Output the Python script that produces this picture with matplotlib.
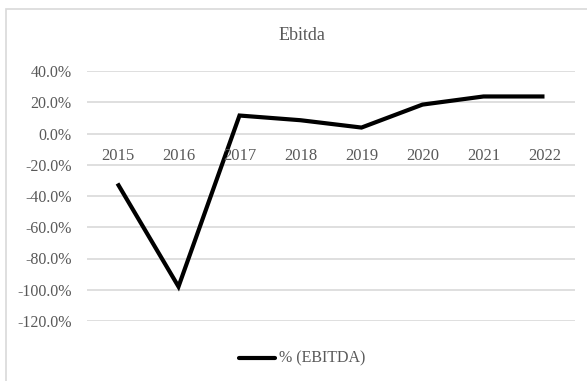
import matplotlib
matplotlib.use("Agg")
import matplotlib.pyplot as plt
from matplotlib.lines import Line2D
from matplotlib.patches import Rectangle
from matplotlib.ticker import FuncFormatter, FixedLocator

years = ["2015", "2016", "2017", "2018", "2019", "2020", "2021", "2022"]
ebitda_pct = [-0.32, -0.98, 0.115, 0.085, 0.038, 0.185, 0.237, 0.237]
yticks = [0.4, 0.2, 0.0, -0.2, -0.4, -0.6, -0.8, -1.0, -1.2]
series_name = "% (EBITDA)"
title = "Ebitda"

W, H = 587, 381
fig = plt.figure(figsize=(W / 100, H / 100), dpi=100)
plt.rcParams['font.family'] = ['Liberation Serif', 'DejaVu Serif']
txt_color = "#595959"
grid_color = "#d9d9d9"

# chart area border
fig.patches.append(Rectangle((6 / W, -0.1), 1.2, 1 - 8.5 / H + 0.1,
                             transform=fig.transFigure, fill=False,
                             edgecolor="#d9d9d9", linewidth=1.2))

left, right = 87 / W, 575 / W
top, bottom = 1 - 71 / H, 1 - 321 / H
ax = fig.add_axes([left, bottom, right - left, top - bottom])
x = list(range(len(years)))
ax.plot(x, ebitda_pct, color="black", linewidth=3, solid_joinstyle="miter",
        solid_capstyle="butt", zorder=3)
ax.set_xlim(-0.5, len(years) - 0.5)
ax.set_ylim(-1.2, 0.4)
ax.yaxis.set_major_locator(FixedLocator(yticks))
ax.yaxis.set_major_formatter(FuncFormatter(lambda v, p: f"{v*100:.1f}%"))
ax.grid(axis="y", color=grid_color, linewidth=1.2)
ax.set_axisbelow(True)
for s in ax.spines.values():
    s.set_visible(False)
ax.tick_params(axis="y", length=0, pad=11, labelsize=11.5, labelcolor=txt_color)
ax.set_xticks([])
# category labels placed just below the zero axis line
for xi, lab in zip(x, years):
    ax.annotate(lab, xy=(xi, 0), xytext=(0, -16), textcoords="offset points",
                ha="center", va="center", fontsize=12, color=txt_color)

fig.text(302 / W, 1 - 36 / H, title, ha="center", va="center",
         fontsize=13, color=txt_color)

# legend
ly = 1 - 358 / H
fig.lines.append(Line2D([239 / W, 275 / W], [ly, ly], transform=fig.transFigure,
                        color="black", linewidth=3, solid_capstyle="round"))
fig.text(279 / W, ly, series_name, ha="left", va="center",
         fontsize=11.5, color=txt_color)

fig.savefig("out.png", dpi=100)
